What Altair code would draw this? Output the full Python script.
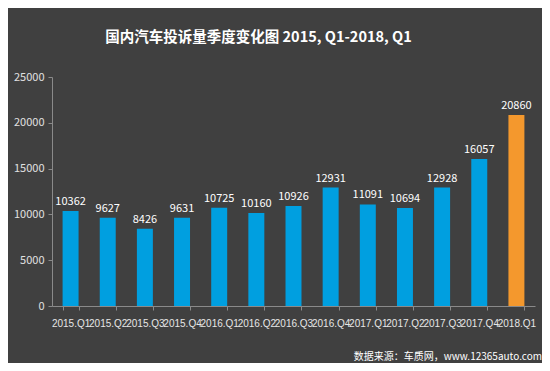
import altair as alt
import pandas as pd

quarters = ["2015.Q1", "2015.Q2", "2015.Q3", "2015.Q4", "2016.Q1", "2016.Q2", "2016.Q3",
            "2016.Q4", "2017.Q1", "2017.Q2", "2017.Q3", "2017.Q4", "2018.Q1"]
complaints = [10362, 9627, 8426, 9631, 10725, 10160, 10926, 12931, 11091, 10694, 12928, 16057, 20860]
highlight = ["normal"] * 12 + ["latest"]

df = pd.DataFrame({"q": quarters, "v": complaints, "h": highlight})

FONT = "Noto Sans CJK SC"
BG = "#404040"

x = alt.X("q:N", sort=quarters, title=None,
          scale=alt.Scale(paddingInner=0.57, paddingOuter=0.285),
          axis=alt.Axis(labelAngle=0, labelColor="#e6e6e6", labelFontSize=10, labelFont="Liberation Sans",
                        labelPadding=8, domainColor="#8a8a8a", tickColor="#8a8a8a", tickSize=4,
                        tickBand="extent", labelOverlap=False))
y = alt.Y("v:Q", title=None,
          scale=alt.Scale(domain=[0, 25000], nice=False),
          axis=alt.Axis(values=[0, 5000, 10000, 15000, 20000, 25000], grid=False, format="d",
                        labelColor="#e0e0e0", labelFontSize=11, labelFont=FONT,
                        domainColor="#8a8a8a", tickColor="#8a8a8a", tickSize=4, labelPadding=4))

bars = alt.Chart(df).mark_bar().encode(
    x=x, y=y,
    color=alt.Color("h:N", scale=alt.Scale(domain=["normal", "latest"], range=["#009fe0", "#f4982d"]),
                    legend=None),
)
labels = alt.Chart(df).mark_text(dy=-9, color="#ffffff", fontSize=11, font=FONT).encode(
    x=alt.X("q:N", sort=quarters), y="v:Q", text="v:Q"
)
footer = alt.Chart(pd.DataFrame({"t": ["数据来源：车质网，www.12365auto.com"]})).mark_text(
    align="right", baseline="bottom", color="#ffffff", fontSize=10, font=FONT
).encode(x=alt.value(490), y=alt.value(285), text="t:N")

chart = alt.layer(bars, labels, footer).properties(
    width=483, height=229,
    autosize=alt.AutoSizeParams(type="none"),
    padding={"left": 44, "top": 69, "right": 7, "bottom": 57},
    background=BG,
    title=alt.TitleParams("国内汽车投诉量季度变化图 2015, Q1-2018, Q1", color="#ffffff", fontSize=14.5,
                          font=FONT, fontWeight="bold", anchor="middle", dx=-35, offset=26),
).configure_view(stroke=None)

chart.save("out.html", embed_options={"renderer": "svg", "actions": False})
